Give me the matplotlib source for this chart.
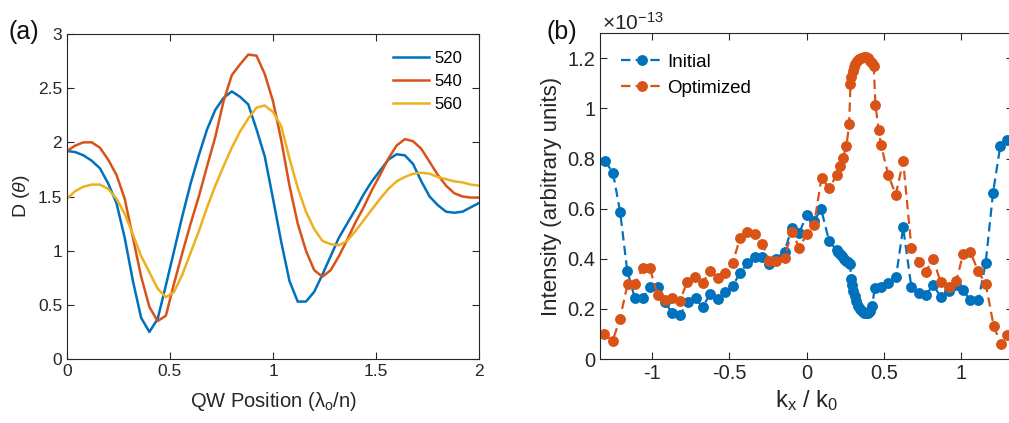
#!/usr/bin/env python3
"""Two-panel figure: (a) D(theta) vs QW position, (b) far-field intensity vs kx/k0."""

import matplotlib
import numpy as np

matplotlib.use("Agg")
import matplotlib.pyplot as plt
from matplotlib.ticker import FuncFormatter

plt.rcParams["font.family"] = ["Liberation Sans", "DejaVu Sans"]
plt.rcParams["mathtext.fontset"] = "custom"
plt.rcParams["mathtext.rm"] = "Liberation Sans"
plt.rcParams["mathtext.it"] = "Liberation Sans:italic"

# ---- panel (a) data ----
qw_pos = np.round(np.arange(0, 2.0001, 0.04), 2)
d_520 = [1.92, 1.91, 1.88, 1.83, 1.76, 1.62, 1.44, 1.12, 0.72, 0.38,
         0.25, 0.37, 0.68, 1.00, 1.32, 1.62, 1.88, 2.12, 2.30, 2.41,
         2.47, 2.42, 2.35, 2.12, 1.87, 1.48, 1.08, 0.72, 0.53, 0.53,
         0.62, 0.78, 0.95, 1.12, 1.25, 1.38, 1.52, 1.64, 1.74, 1.84,
         1.89, 1.88, 1.80, 1.64, 1.50, 1.42, 1.36, 1.35, 1.36, 1.40,
         1.44]
d_540 = [1.92, 1.97, 2.00, 2.00, 1.95, 1.84, 1.70, 1.48, 1.12, 0.76,
         0.48, 0.35, 0.40, 0.70, 0.98, 1.25, 1.50, 1.78, 2.05, 2.38,
         2.62, 2.72, 2.81, 2.80, 2.63, 2.38, 2.02, 1.60, 1.25, 1.00,
         0.82, 0.76, 0.82, 0.95, 1.10, 1.26, 1.40, 1.56, 1.70, 1.85,
         1.97, 2.03, 2.01, 1.94, 1.82, 1.70, 1.60, 1.53, 1.50, 1.49,
         1.49]
d_560 = [1.48, 1.55, 1.59, 1.61, 1.61, 1.57, 1.48, 1.34, 1.15, 0.95,
         0.80, 0.65, 0.57, 0.62, 0.78, 0.98, 1.18, 1.40, 1.60, 1.78,
         1.95, 2.10, 2.22, 2.32, 2.34, 2.28, 2.15, 1.85, 1.58, 1.36,
         1.20, 1.09, 1.06, 1.05, 1.09, 1.18, 1.28, 1.38, 1.48, 1.57,
         1.64, 1.68, 1.71, 1.72, 1.71, 1.68, 1.66, 1.64, 1.63, 1.61,
         1.60]
wavelengths = ["520", "540", "560"]

# ---- panel (b) data (intensity in units of 1e-13) ----
init_kx = [-1.300, -1.249, -1.203, -1.157, -1.108, -1.056, -1.013, -0.961, -0.914, -0.867,
           -0.817, -0.766, -0.716, -0.671, -0.624, -0.574, -0.527, -0.477, -0.430, -0.381,
           -0.334, -0.286, -0.241, -0.194, -0.142, -0.095, -0.046, 0.000, 0.049, 0.095,
           0.146, 0.194, 0.206, 0.219, 0.232, 0.245, 0.258, 0.270, 0.280, 0.290,
           0.296, 0.302, 0.310, 0.320, 0.333, 0.347, 0.361, 0.374, 0.387, 0.400,
           0.413, 0.424, 0.440, 0.484, 0.527, 0.578, 0.624, 0.677, 0.727, 0.772,
           0.817, 0.867, 0.918, 0.963, 1.008, 1.058, 1.110, 1.157, 1.204, 1.251,
           1.297]
init_val = [0.790, 0.743, 0.587, 0.352, 0.242, 0.242, 0.287, 0.286, 0.226, 0.185,
            0.176, 0.228, 0.242, 0.206, 0.258, 0.239, 0.266, 0.291, 0.342, 0.382,
            0.406, 0.408, 0.381, 0.401, 0.428, 0.524, 0.504, 0.574, 0.552, 0.597,
            0.471, 0.435, 0.428, 0.418, 0.410, 0.401, 0.393, 0.386, 0.380, 0.320,
            0.295, 0.272, 0.250, 0.230, 0.213, 0.200, 0.191, 0.185, 0.182, 0.184,
            0.192, 0.212, 0.282, 0.288, 0.302, 0.328, 0.525, 0.286, 0.264, 0.255,
            0.297, 0.247, 0.273, 0.295, 0.277, 0.234, 0.235, 0.385, 0.663, 0.850,
            0.875]
opt_kx = [-1.306, -1.252, -1.205, -1.155, -1.108, -1.058, -1.011, -0.961, -0.914, -0.865,
          -0.817, -0.770, -0.721, -0.671, -0.624, -0.574, -0.527, -0.477, -0.430, -0.381,
          -0.334, -0.286, -0.241, -0.194, -0.142, -0.095, -0.046, 0.000, 0.049, 0.097,
          0.146, 0.194, 0.219, 0.236, 0.258, 0.275, 0.284, 0.290, 0.297, 0.305,
          0.316, 0.328, 0.341, 0.355, 0.369, 0.383, 0.398, 0.412, 0.425, 0.434,
          0.445, 0.465, 0.481, 0.527, 0.576, 0.624, 0.677, 0.727, 0.770, 0.817,
          0.866, 0.918, 0.968, 1.010, 1.058, 1.107, 1.157, 1.208, 1.254, 1.297]
opt_val = [0.100, 0.073, 0.158, 0.299, 0.299, 0.362, 0.362, 0.255, 0.235, 0.242,
           0.232, 0.308, 0.326, 0.302, 0.352, 0.322, 0.342, 0.382, 0.481, 0.508,
           0.497, 0.461, 0.391, 0.391, 0.404, 0.507, 0.445, 0.497, 0.536, 0.724,
           0.681, 0.734, 0.771, 0.804, 0.851, 0.936, 1.096, 1.127, 1.148, 1.165,
           1.178, 1.189, 1.197, 1.203, 1.207, 1.206, 1.200, 1.191, 1.180, 1.168,
           1.015, 0.915, 0.855, 0.736, 0.656, 0.789, 0.445, 0.388, 0.348, 0.401,
           0.306, 0.288, 0.311, 0.419, 0.428, 0.351, 0.299, 0.133, 0.059, 0.096]

BLUE, RED, YELLOW = "#0072BD", "#D95319", "#EDB120"
AX_COLOR = "#262626"
fmt = FuncFormatter(lambda v, _: f"{v:g}")


def style_axes(ax, size):
    for s in ax.spines.values():
        s.set_color(AX_COLOR)
        s.set_linewidth(0.8)
    ax.tick_params(direction="in", top=True, right=True, length=5, width=0.8,
                   colors=AX_COLOR, labelsize=size, labelcolor=AX_COLOR)
    ax.xaxis.set_major_formatter(fmt)
    ax.yaxis.set_major_formatter(fmt)


fig = plt.figure(figsize=(10.09, 4.23), dpi=100)

# ---- (a) ----
ax1 = fig.add_axes([67 / 1009, 1 - 359 / 423, 412 / 1009, 325 / 423])
for vals, col, name in zip([d_520, d_540, d_560], [BLUE, RED, YELLOW], wavelengths):
    ax1.plot(qw_pos, vals, color=col, lw=1.8, label=name)
ax1.set_xlim(0, 2)
ax1.set_ylim(0, 3)
ax1.set_xticks(np.arange(0, 2.01, 0.5))
ax1.set_yticks(np.arange(0, 3.01, 0.5))
style_axes(ax1, 12.5)
ax1.set_xlabel("QW Position (λ$_\\mathrm{o}$/n)", fontsize=14.5, color=AX_COLOR, labelpad=8)
ax1.set_ylabel(r"D ($\theta$)", fontsize=14, color=AX_COLOR)
ax1.legend(loc="upper right", frameon=False, fontsize=12, handlelength=2.2,
           handletextpad=0.3, labelspacing=0.5, borderaxespad=0.6)
fig.text(9 / 1009, 1 - 32 / 423, "(a)", fontsize=18, va="center", ha="left", color="#111111")

# ---- (b) ----
ax2 = fig.add_axes([600 / 1009, 1 - 359 / 423, 413 / 1009, 325.7 / 423])
ls = (0, (4.2, 2.4))
ax2.plot(init_kx, init_val, color=BLUE, ls=ls, lw=1.6, marker="o", ms=6.8, label="Initial")
ax2.plot(opt_kx, opt_val, color=RED, ls=ls, lw=1.6, marker="o", ms=6.8, label="Optimized")
ax2.set_xlim(-1.333, 1.333)
ax2.set_ylim(0, 1.3)
ax2.set_xticks([-1, -0.5, 0, 0.5, 1])
ax2.set_yticks(np.arange(0, 1.21, 0.2))
style_axes(ax2, 14.5)
ax2.set_xlabel(r"k$_\mathrm{x}$ / k$_\mathrm{0}$", fontsize=17, color=AX_COLOR, labelpad=4)
ax2.set_ylabel("Intensity (arbitrary units)", fontsize=16, color=AX_COLOR)
ax2.legend(loc="upper left", frameon=False, fontsize=13.5, handlelength=2.3,
           handletextpad=0.2, labelspacing=0.45, borderaxespad=0.7)
ax2.text(0.005, 1.0, r"$\times$10$^{-13}$", transform=ax2.transAxes, fontsize=15,
         ha="left", va="bottom", color=AX_COLOR)
fig.text(547 / 1009, 1 - 32 / 423, "(b)", fontsize=18, va="center", ha="left", color="#111111")

fig.savefig("out.png", dpi=100)
